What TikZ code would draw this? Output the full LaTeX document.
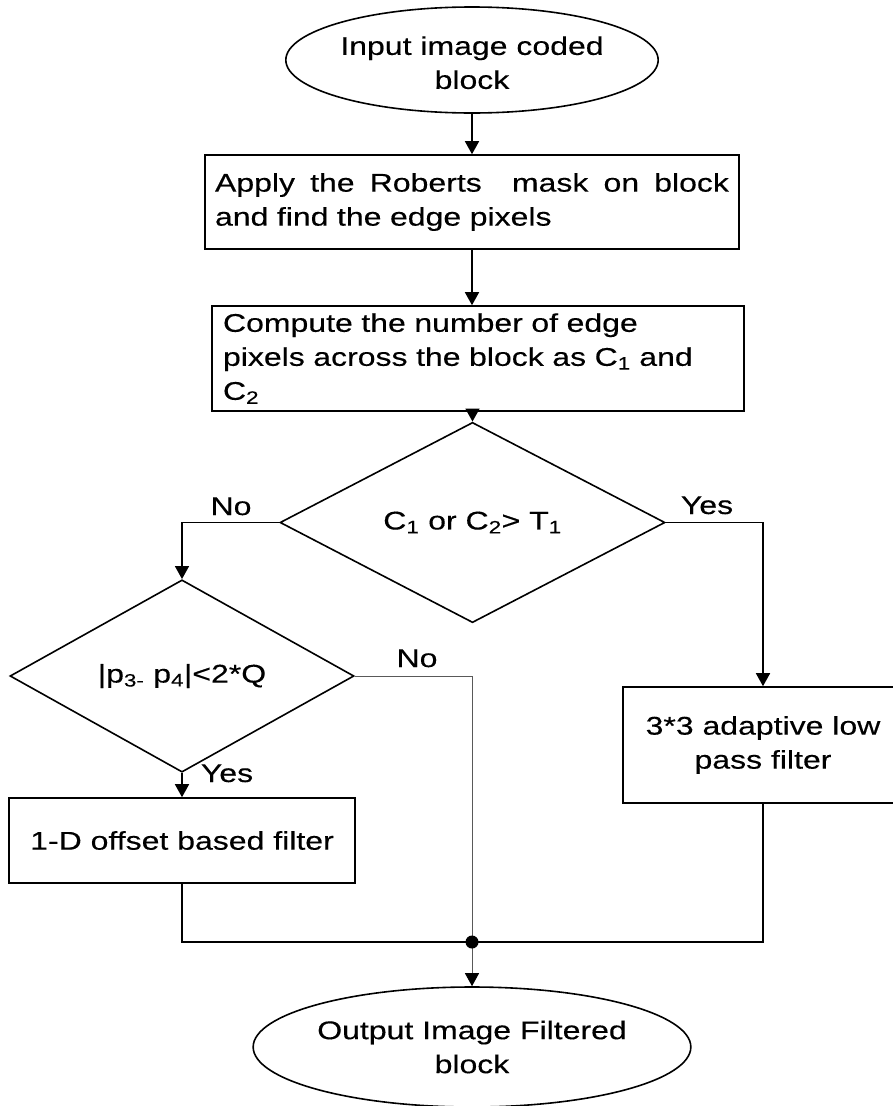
\documentclass[tikz,border=0pt]{standalone}
\usepackage{fontspec}
\setmainfont{Liberation Sans}[FakeStretch=1.25,FakeBold=0.3]
\usetikzlibrary{shapes.geometric,arrows.meta}
\begin{document}
\begin{tikzpicture}[x=1pt,y=-1pt,
  every node/.style={font=\fontsize{25.6}{34}\selectfont},
  line/.style={line width=1.6pt, black},
  thinline/.style={line width=1pt, black!65},
  arr/.style={-{Triangle[length=13pt,width=14pt,color=black]}},
  boxnode/.style={draw, line width=1.6pt, rectangle, inner sep=0pt},
  ellnode/.style={draw, line width=1.6pt, ellipse, inner sep=0pt, align=center},
  decision/.style={draw, line width=1.6pt, diamond, inner sep=0pt},
  lbl/.style={anchor=base, inner sep=0pt}]
\clip (0,0) rectangle (893,1106);
\fill[white] (0,0) rectangle (893,1106);

\node[ellnode, minimum width=344pt, minimum height=106pt] (start) at (472,60)
  {\rule{0pt}{24pt}Input image coded\\block};
\node[boxnode, minimum width=534pt, minimum height=94pt, text width=514pt, align=left] (roberts) at (472,202)
  {\hbox to 514pt{Apply \hfill the \hfill Roberts \hfill\hfill\ mask \hfill on \hfill block}\\and find the edge pixels};
\node[boxnode, minimum width=532pt, minimum height=105pt, text width=510pt, align=left] (count) at (478,358.5)
  {Compute the number of edge\\pixels across the block as C\textsubscript{1} and\\C\textsubscript{2}};
\node[decision, minimum width=385pt, minimum height=127pt] (d1) at (472.5,522.5)
  {C\textsubscript{1} or C\textsubscript{2}> T\textsubscript{1}};
\node[decision, minimum width=344pt, minimum height=126pt] (d2) at (182,676)
  {|p\textsubscript{3-} p\textsubscript{4}|<2*Q};
\node[boxnode, minimum width=346pt, minimum height=85pt] (oned) at (182,840.5)
  {1-D offset based filter};
\node[boxnode, minimum width=280pt, minimum height=116pt, align=center] (lowpass) at (763,745)
  {3*3 adaptive low\\pass filter};
\node[ellnode, minimum width=376pt, minimum height=120pt] (out) at (472,1047)
  {Output Image Filtered\\block};
\coordinate (J) at (472,942);

\draw[line,arr] (start.south) -- (roberts.north);
\draw[line,arr] (roberts.south) -- (roberts.south |- count.north);
\draw[line,arr] (d1.north |- count.south) -- (d1.north);
\draw[line,arr] (d1.west) -| (d2.north);
\draw[line,arr] (d1.east) -| (lowpass.north);
\draw[line,arr] (d2.south) -- (oned.north);
\draw[thinline] (d2.east) -| (J);
\draw[line] (oned.south) |- (J);
\draw[line] (lowpass.south) |- (J);
\draw[thinline,arr] (J) -- (out.north);
\fill (J) circle (6.5pt);

\node[lbl] (no1) at (231,515) {No};
\node[lbl] (yes1) at (707,514) {Yes};
\node[lbl] (no2) at (417,667) {No};
\node[lbl] (yes2) at (227,782) {Yes};
\end{tikzpicture}
\end{document}
